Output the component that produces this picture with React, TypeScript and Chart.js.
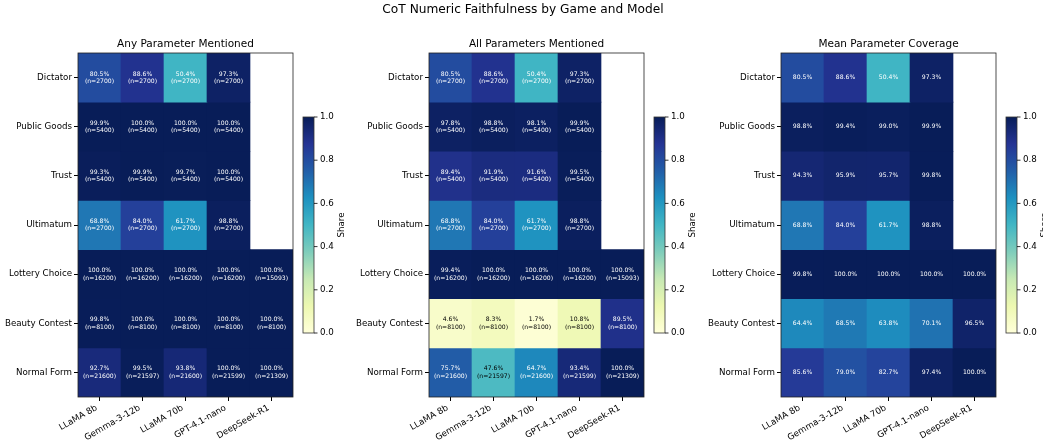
import React, { useEffect, useRef } from "react";
import { Chart, registerables } from "chart.js";
Chart.register(...registerables);

// ---------- data ----------
const suptitle = "CoT Numeric Faithfulness by Game and Model";
const panelTitles = ["Any Parameter Mentioned", "All Parameters Mentioned", "Mean Parameter Coverage"];
const games = ["Dictator", "Public Goods", "Trust", "Ultimatum", "Lottery Choice", "Beauty Contest", "Normal Form"];
const models = ["LLaMA 8b", "Gemma-3-12b", "LLaMA 70b", "GPT-4.1-nano", "DeepSeek-R1"];

// shares in percent, rows = games, cols = models (null = no data)
const anyMentioned: (number | null)[][] = [
  [80.5, 88.6, 50.4, 97.3, null],
  [99.9, 100.0, 100.0, 100.0, null],
  [99.3, 99.9, 99.7, 100.0, null],
  [68.8, 84.0, 61.7, 98.8, null],
  [100.0, 100.0, 100.0, 100.0, 100.0],
  [99.8, 100.0, 100.0, 100.0, 100.0],
  [92.7, 99.5, 93.8, 100.0, 100.0],
];
const allMentioned: (number | null)[][] = [
  [80.5, 88.6, 50.4, 97.3, null],
  [97.8, 98.8, 98.1, 99.9, null],
  [89.4, 91.9, 91.6, 99.5, null],
  [68.8, 84.0, 61.7, 98.8, null],
  [99.4, 100.0, 100.0, 100.0, 100.0],
  [4.6, 8.3, 1.7, 10.8, 89.5],
  [75.7, 47.6, 64.7, 93.4, 100.0],
];
const meanCoverage: (number | null)[][] = [
  [80.5, 88.6, 50.4, 97.3, null],
  [98.8, 99.4, 99.0, 99.9, null],
  [94.3, 95.9, 95.7, 99.8, null],
  [68.8, 84.0, 61.7, 98.8, null],
  [99.8, 100.0, 100.0, 100.0, 100.0],
  [64.4, 68.5, 63.8, 70.1, 96.5],
  [85.6, 79.0, 82.7, 97.4, 100.0],
];
const sampleSizes: (number | null)[][] = [
  [2700, 2700, 2700, 2700, null],
  [5400, 5400, 5400, 5400, null],
  [5400, 5400, 5400, 5400, null],
  [2700, 2700, 2700, 2700, null],
  [16200, 16200, 16200, 16200, 15093],
  [8100, 8100, 8100, 8100, 8100],
  [21600, 21597, 21600, 21599, 21309],
];
const colorbarTicks = [0, 0.2, 0.4, 0.6, 0.8, 1.0];
const colorbarLabel = "Share";

// ---------- style / layout ----------
const FAMILY = "DejaVu Sans";
const W = 1043;
const H = 445;
const AX_TOP = 53;
const AX_BOTTOM = 397;
const AX_LEFTS = [78, 429, 781];
const AX_WIDTH = 215;
const Y_AXIS_W = 78;
const X_AXIS_H = 48;
const CB_TOP = 117;
const CB_BOTTOM = 333;
const TICK_FONT = `8.7px "${FAMILY}"`;

Chart.defaults.font.family = FAMILY;

const YLGNBU = [
  [255, 255, 217], [237, 248, 177], [199, 233, 180], [127, 205, 187], [65, 182, 196],
  [29, 145, 192], [34, 94, 168], [37, 52, 148], [8, 29, 88],
];
function cmap(t: number): string {
  const x = Math.max(0, Math.min(1, t)) * (YLGNBU.length - 1);
  const i = Math.min(Math.floor(x), YLGNBU.length - 2);
  const f = x - i;
  const a = YLGNBU[i], b = YLGNBU[i + 1];
  const c = a.map((v, k) => Math.round(v + (b[k] - v) * f));
  return `rgb(${c[0]},${c[1]},${c[2]})`;
}

const panelValues = [anyMentioned, allMentioned, meanCoverage];

function makeConfig(p: number): any {
  const values = panelValues[p];
  const showN = p < 2;
  const axLeft = AX_LEFTS[p];
  const axRight = axLeft + AX_WIDTH;

  const overlay = {
    id: "overlay" + p,
    afterDatasetsDraw(chart: any) {
      const ctx = chart.ctx;
      ctx.save();
      ctx.textAlign = "center";
      ctx.textBaseline = "middle";
      ctx.font = `6.1px "${FAMILY}"`;
      games.forEach((_, i) => {
        const meta = chart.getDatasetMeta(i);
        meta.data.forEach((bar: any, j: number) => {
          const v = values[i][j];
          if (v == null) return;
          const { x, y, base } = bar.getProps(["x", "y", "base"], true);
          const cy = (y + base) / 2;
          ctx.fillStyle = v / 100 < 0.5 ? "#000" : "#fff";
          if (showN) {
            ctx.fillText(`${v.toFixed(1)}%`, x, cy - 3.6);
            ctx.fillText(`(n=${sampleSizes[i][j]})`, x, cy + 3.8);
          } else {
            ctx.fillText(`${v.toFixed(1)}%`, x, cy);
          }
        });
      });
      ctx.restore();
    },
    afterDraw(chart: any) {
      const ctx = chart.ctx;
      const ca = chart.chartArea;
      const xs = chart.scales.x;
      const ys = chart.scales.y;
      ctx.save();
      // frame
      ctx.strokeStyle = "#222";
      ctx.lineWidth = 0.8;
      ctx.strokeRect(ca.left, ca.top, ca.right - ca.left, ca.bottom - ca.top);

      // tick labels (y)
      ctx.fillStyle = "#000";
      ctx.font = TICK_FONT;
      ctx.textAlign = "right";
      ctx.textBaseline = "middle";
      games.forEach((g, i) => {
        ctx.fillText(g, ca.left - 6, ys.getPixelForValue(i + 0.5));
      });
      // tick labels (x), rotated 30deg, right-aligned like matplotlib
      const h = 10.2;
      models.forEach((m, j) => {
        const tx = xs.getPixelForValue(j);
        ctx.save();
        ctx.translate(tx - h * 0.5, ca.bottom + 6.5);
        ctx.rotate(-Math.PI / 6);
        ctx.textAlign = "right";
        ctx.textBaseline = "top";
        ctx.fillText(m, 0, 0);
        ctx.restore();
      });

      // panel title
      ctx.font = `10.5px "${FAMILY}"`;
      ctx.textAlign = "center";
      ctx.textBaseline = "alphabetic";
      ctx.fillText(panelTitles[p], (ca.left + ca.right) / 2, 47);
      if (p === 0) {
        ctx.font = `12.2px "${FAMILY}"`;
        ctx.fillText(suptitle, 523, 13);
      }
      // colorbar
      const cbL = ca.right + 10;
      const cbR = cbL + 11;
      const g = ctx.createLinearGradient(0, CB_BOTTOM, 0, CB_TOP);
      YLGNBU.forEach((c, k) => g.addColorStop(k / (YLGNBU.length - 1), `rgb(${c[0]},${c[1]},${c[2]})`));
      ctx.fillStyle = g;
      ctx.fillRect(cbL, CB_TOP, cbR - cbL, CB_BOTTOM - CB_TOP);
      ctx.strokeStyle = "#333";
      ctx.lineWidth = 0.8;
      ctx.strokeRect(cbL, CB_TOP, cbR - cbL, CB_BOTTOM - CB_TOP);
      ctx.fillStyle = "#000";
      ctx.font = TICK_FONT;
      ctx.textAlign = "left";
      ctx.textBaseline = "middle";
      ctx.lineWidth = 0.8;
      ctx.strokeStyle = "#000";
      colorbarTicks.forEach((t) => {
        const ty = CB_BOTTOM - t * (CB_BOTTOM - CB_TOP);
        ctx.beginPath();
        ctx.moveTo(cbR, ty);
        ctx.lineTo(cbR + 3.5, ty);
        ctx.stroke();
        ctx.fillText(t.toFixed(1), cbR + 6, ty);
      });
      ctx.translate(cbR + 27.5, (CB_TOP + CB_BOTTOM) / 2);
      ctx.rotate(-Math.PI / 2);
      ctx.textAlign = "center";
      ctx.fillText(colorbarLabel, 0, 0);
      ctx.restore();
    },
  };

  return {
    type: "bar",
    data: {
      labels: models,
      datasets: games.map((g, i) => ({
        label: g,
        data: models.map((_, j) => (values[i][j] == null ? null : [i, i + 1])),
        backgroundColor: models.map((_, j) => {
          const v = values[i][j];
          return v == null ? "rgba(0,0,0,0)" : cmap(v / 100);
        }),
        borderWidth: 0,
        grouped: false,
        barPercentage: 1,
        categoryPercentage: 1,
      })),
    },
    options: {
      responsive: false,
      animation: false,
      events: [],
      layout: {
        padding: {
          left: axLeft - Y_AXIS_W,
          right: W - axRight,
          top: AX_TOP,
          bottom: H - AX_BOTTOM - X_AXIS_H,
        },
      },
      plugins: {
        legend: { display: false },
        tooltip: { enabled: false },
        title: { display: false },
      },
      scales: {
        x: {
          type: "category",
          offset: true,
          grid: { display: true, drawOnChartArea: false, drawTicks: true, tickLength: 4, color: "#000", offset: false },
          border: { display: false },
          ticks: { display: false, autoSkip: false },
          afterFit: (s: any) => {
            s.height = X_AXIS_H;
          },
        },
        y: {
          type: "linear",
          min: 0,
          max: 7,
          reverse: true,
          afterBuildTicks: (s: any) => {
            s.ticks = games.map((_, i) => ({ value: i + 0.5 }));
          },
          grid: { display: true, drawOnChartArea: false, drawTicks: true, tickLength: 4, color: "#000" },
          border: { display: false },
          ticks: { display: false, autoSkip: false },
          afterFit: (s: any) => {
            s.width = Y_AXIS_W;
          },
        },
      },
    },
    plugins: [overlay],
  };
}

export default function App() {
  const r0 = useRef<HTMLCanvasElement>(null);
  const r1 = useRef<HTMLCanvasElement>(null);
  const r2 = useRef<HTMLCanvasElement>(null);

  useEffect(() => {
    const refs = [r0, r1, r2];
    const charts = refs.map((r, p) => new Chart(r.current as HTMLCanvasElement, makeConfig(p)));
    return () => charts.forEach((c) => c.destroy());
  }, []);

  const canvasStyle: React.CSSProperties = { position: "absolute", left: 0, top: 0, width: W, height: H };
  return (
    <div style={{ position: "fixed", left: 0, top: 0, width: W, height: H, background: "#fff", overflow: "hidden" }}>
      <canvas ref={r0} width={W} height={H} style={canvasStyle} />
      <canvas ref={r1} width={W} height={H} style={canvasStyle} />
      <canvas ref={r2} width={W} height={H} style={canvasStyle} />
    </div>
  );
}
